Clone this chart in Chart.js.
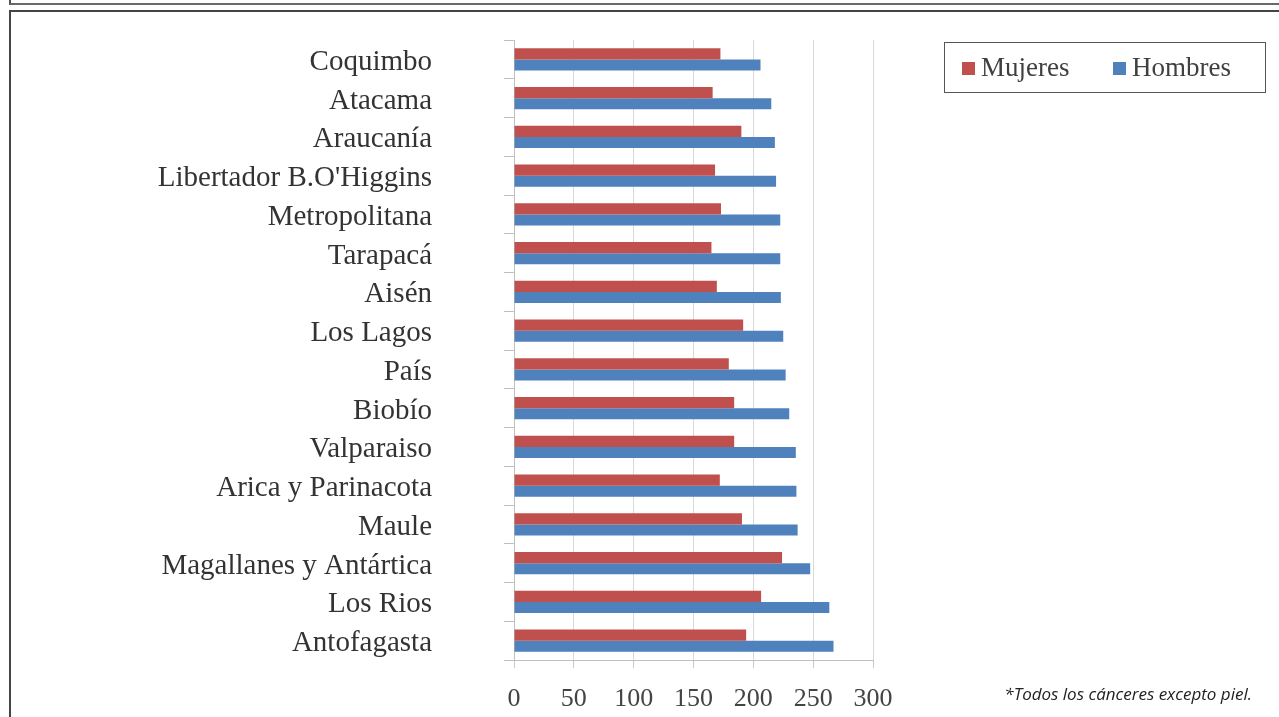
<!DOCTYPE html>
<html lang="es">
<head>
<meta charset="utf-8">
<title>Tasa de mortalidad por cáncer según región</title>
<script src="https://cdn.jsdelivr.net/npm/chart.js@4/dist/chart.umd.min.js"></script>
<style>
  html, body { margin: 0; padding: 0; background: #ffffff; overflow: hidden; }
  body { width: 1279px; height: 717px; position: relative; }
  .caja-superior { position: absolute; left: 9px; top: -20px; width: 1300px; height: 21px;
                   border: 2px solid #505050; border-bottom-color: #6a6a6a; }
  .marco { position: absolute; left: 9px; top: 10px; width: 1300px; height: 800px;
           border-top: 2px solid #444; border-left: 2px solid #444; }
  #grafico { position: absolute; left: 0; top: 0; }
  .nota { position: absolute; right: 27px; top: 682px; font-family: "Liberation Sans Narrow", "Open Sans", sans-serif;
          font-style: italic; font-size: 17px; color: #222; white-space: nowrap; }
</style>
</head>
<body>
<div class="caja-superior"></div>
<div class="marco"></div>
<canvas id="grafico" width="1279" height="717"></canvas>
<div class="nota">*Todos los cánceres excepto piel.</div>
<script>
// Regiones, de arriba hacia abajo
const regiones = [
  'Coquimbo', 'Atacama', 'Araucanía', "Libertador B.O'Higgins", 'Metropolitana',
  'Tarapacá', 'Aisén', 'Los Lagos', 'País', 'Biobío', 'Valparaiso',
  'Arica y Parinacota', 'Maule', 'Magallanes y Antártica', 'Los Rios', 'Antofagasta'
];

// Tasas por región
const mujeres = [172.5, 166, 190, 168, 173, 165, 169.5, 191.5, 179.5, 184, 184, 172, 190.5, 224, 206.5, 194];
const hombres = [206, 215, 218, 219, 222.5, 222.5, 223, 225, 227, 230, 235.5, 236, 237, 247.5, 263.5, 267];

// Marcas del eje horizontal
const marcasX = [0, 50, 100, 150, 200, 250, 300];

const ROJO = '#c0504d';
const AZUL = '#4f81bd';

// Leyenda en recuadro, a la derecha del área de trazado
const leyendaRecuadro = {
  id: 'leyendaRecuadro',
  afterDraw(chart) {
    const ctx = chart.ctx;
    ctx.save();
    ctx.strokeStyle = '#555';
    ctx.lineWidth = 1;
    ctx.strokeRect(944.5, 42.5, 321, 50);
    ctx.font = '27px "Liberation Serif", serif';
    ctx.textBaseline = 'middle';
    const posiciones = [962, 1113];
    chart.data.datasets.forEach((ds, i) => {
      const x = posiciones[i];
      ctx.fillStyle = ds.backgroundColor;
      ctx.fillRect(x, 62, 13, 13);
      ctx.fillStyle = '#404040';
      ctx.fillText(ds.label, x + 19, 69);
    });
    ctx.restore();
  }
};

new Chart(document.getElementById('grafico'), {
  type: 'bar',
  data: {
    labels: regiones,
    datasets: [
      { label: 'Mujeres', data: mujeres, backgroundColor: ROJO },
      { label: 'Hombres', data: hombres, backgroundColor: AZUL }
    ]
  },
  options: {
    indexAxis: 'y',
    responsive: false,
    animation: false,
    devicePixelRatio: 1,
    layout: { padding: { top: 40, right: 406, bottom: 0, left: 0 } },
    datasets: { bar: { categoryPercentage: 0.57, barPercentage: 1.0 } },
    plugins: {
      legend: { display: false },
      tooltip: { enabled: false }
    },
    scales: {
      x: {
        min: 0,
        max: 300,
        afterBuildTicks(scale) { scale.ticks = marcasX.map(v => ({ value: v })); },
        afterFit(scale) { scale.height = 57; },
        grid: { color: '#d9d9d9', tickColor: '#c8c8c8', tickLength: 8, lineWidth: 1 },
        border: { color: '#bfbfbf', width: 1 },
        ticks: {
          padding: 16,
          color: '#444',
          font: { family: '"Liberation Serif", serif', size: 26 }
        }
      },
      y: {
        afterFit(scale) {
          // ancho fijo del eje y sin márgenes verticales extra por el relleno de las etiquetas
          scale.width = 514;
          scale.paddingTop = 0;
          scale.paddingBottom = 0;
        },
        grid: { drawOnChartArea: false, offset: true, color: '#bfbfbf', tickLength: 10 },
        border: { color: '#bfbfbf', width: 1 },
        ticks: {
          autoSkip: false,
          padding: 72,
          labelOffset: 3,
          color: '#333',
          font: { family: '"Liberation Serif", serif', size: 29 }
        }
      }
    }
  },
  plugins: [leyendaRecuadro]
});
</script>
</body>
</html>
